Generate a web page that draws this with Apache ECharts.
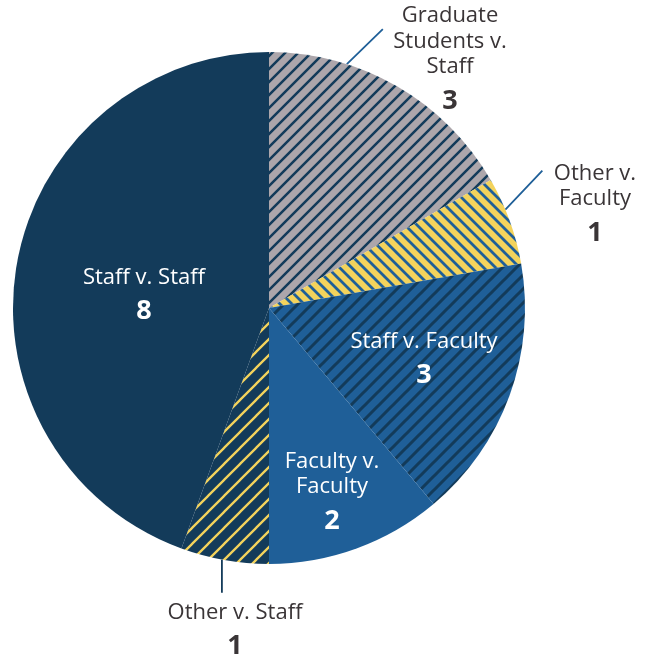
<!DOCTYPE html>
<html>
<head>
<meta charset="utf-8">
<script src="https://cdn.jsdelivr.net/npm/echarts@6/dist/echarts.min.js"></script>
<style>html,body{margin:0;padding:0;background:#fff}#c{width:654px;height:657px}</style>
</head>
<body>
<div id="c"></div>
<script>
// ---- data ----
const categories = ['Graduate\nStudents v.\nStaff', 'Other v.\nFaculty', 'Staff v. Faculty', 'Faculty v.\nFaculty', 'Other v. Staff', 'Staff v. Staff'];
const values = [3, 1, 3, 2, 1, 8];
const labelInside = [false, false, true, true, false, true];

// ---- styles ----
const NAVY = '#133b5a', BLUE = '#1f5f98', GRAY = '#aca6ab', YELLOW = '#f3d35c', TEXT = '#3a3537';
const CX = 269, CY = 308, R = 256;

function stripes(bg, fg, dir, h, w) {
  const c = document.createElement('canvas');
  c.width = h; c.height = h;
  const g = c.getContext('2d');
  g.fillStyle = bg; g.fillRect(0, 0, h, h);
  g.strokeStyle = fg; g.lineWidth = w; g.lineCap = 'butt';
  g.beginPath();
  for (let k = -3; k <= 3; k++) {
    const cc = k * h;
    if (dir === '/') { g.moveTo(cc + h + h, -h); g.lineTo(cc - h, 2 * h); }
    else { g.moveTo(cc - h, -h); g.lineTo(cc + 2 * h, 2 * h); }
  }
  g.stroke();
  return { image: c, repeat: 'repeat' };
}

const fills = [
  stripes(GRAY, NAVY, '/', 13, 2.5),
  stripes(YELLOW, BLUE, '\\', 12, 2.8),
  stripes(BLUE, NAVY, '/', 14, 3),
  BLUE,
  stripes(NAVY, YELLOW, '/', 16, 2.3),
  NAVY
];
const leaderColors = [BLUE, BLUE, null, null, NAVY, null];

// label block centres (label placement, not data)
const labelPos = [[450, 63], [595, 208], [424, 363], [332, 496], [235, 634], [144, 299]];
// leader lines: arc angle (deg clockwise from top) and offset of the outer end
const leaders = { 0: [17.7, 36, -35], 1: [67.4, 37, -39], 4: [190.6, 0, 33] };

const data = categories.map((name, i) => ({
  name: name,
  value: values[i],
  itemStyle: { color: fills[i] },
  label: { position: labelInside[i] ? 'inside' : 'outside', color: labelInside[i] ? '#ffffff' : TEXT },
  labelLine: { show: !labelInside[i], lineStyle: { color: leaderColors[i] || NAVY, width: 1.8 } }
}));

const chart = echarts.init(document.getElementById('c'), null, { renderer: 'canvas' });
chart.setOption({
  animation: false,
  backgroundColor: '#ffffff',
  series: [{
    type: 'pie',
    center: [CX, CY],
    radius: R,
    startAngle: 90,
    clockwise: true,
    avoidLabelOverlap: false,
    silent: true,
    data: data,
    itemStyle: { borderWidth: 0 },
    labelLine: { show: false },
    label: {
      show: true,
      fontFamily: 'Open Sans',
      formatter: p => p.name.split('\n').map(l => '{n|' + l + '}').join('\n') + '\n{v|' + p.value + '}',
      rich: {
        n: { fontFamily: 'Open Sans', fontSize: 22, lineHeight: 25.5, align: 'center' },
        v: { fontFamily: 'Open Sans', fontSize: 27, fontWeight: 'bold', lineHeight: 43.5, align: 'center' }
      }
    },
    labelLayout: function (params) {
      const i = params.dataIndex;
      const out = { x: labelPos[i][0], y: labelPos[i][1], align: 'center', verticalAlign: 'middle' };
      const L = leaders[i];
      if (L) {
        const a = L[0] * Math.PI / 180;
        const sx = CX + R * Math.sin(a), sy = CY - R * Math.cos(a);
        out.labelLinePoints = [[sx, sy], [sx + L[1] / 2, sy + L[2] / 2], [sx + L[1], sy + L[2]]];
      }
      return out;
    }
  }]
});
</script>
</body>
</html>
